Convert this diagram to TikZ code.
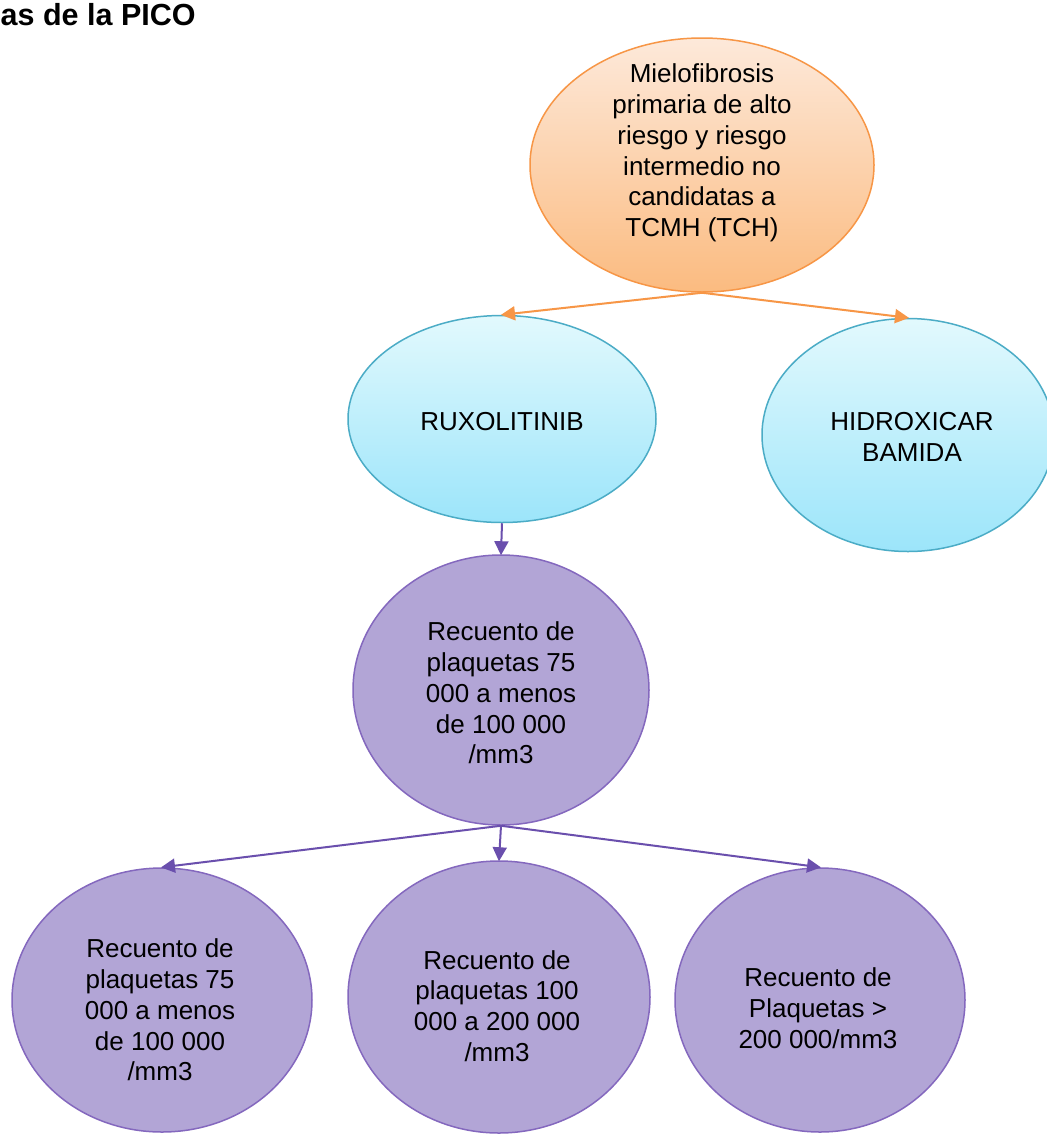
\documentclass[tikz,border=0pt]{standalone}
\usepackage{fontspec}
\setmainfont{Liberation Sans}
\usetikzlibrary{shapes.geometric,arrows.meta}
\definecolor{orgline}{HTML}{F79646}
\definecolor{orgtop}{HTML}{FDE9DA}
\definecolor{orgbot}{HTML}{FBBB80}
\definecolor{cyline}{HTML}{4BACC6}
\definecolor{cytop}{HTML}{E2F9FD}
\definecolor{cybot}{HTML}{9CE5FA}
\definecolor{puline}{HTML}{8468BE}
\definecolor{pufill}{HTML}{B2A5D6}
\definecolor{puarrow}{HTML}{6A4FAD}
\tikzset{
  orgell/.style={ellipse, draw=orgline, line width=1.5pt, top color=orgtop, bottom color=orgbot, inner sep=0pt},
  cyell/.style={ellipse, draw=cyline, line width=1.5pt, top color=cytop, bottom color=cybot, inner sep=0pt},
  puell/.style={ellipse, draw=puline, line width=1.5pt, fill=pufill, inner sep=0pt},
  txt/.style={align=center, inner sep=0pt, font=\fontsize{26}{30.8}\selectfont},
  orgarrow/.style={draw=orgline, line width=2pt, -{Triangle[length=14pt,width=14pt]}, shorten >=-1pt},
  puarrowst/.style={draw=puarrow, line width=2pt, -{Triangle[length=14pt,width=14pt]}, shorten >=-1pt}
}
\begin{document}
\begin{tikzpicture}[x=1pt,y=-1pt]
\useasboundingbox (0,0) rectangle (1047,1141);
\fill[white] (0,0) rectangle (1047,1141);
\node[anchor=base west, inner sep=0pt, font=\fontsize{30.5}{34}\selectfont\bfseries] (title) at (0.5,25) {as de la PICO};
% ellipses
\node[orgell, minimum width=344pt, minimum height=254pt] (top) at (702,165) {};
\node[cyell, minimum width=308pt, minimum height=207pt] (rux) at (502,419) {};
\node[cyell, minimum width=292pt, minimum height=233pt] (hid) at (908,435) {};
\node[puell, minimum width=296pt, minimum height=270pt] (mid) at (501,690) {};
\node[puell, minimum width=300pt, minimum height=264pt] (b1) at (162,1000) {};
\node[puell, minimum width=302pt, minimum height=272pt] (b2) at (499,997) {};
\node[puell, minimum width=290pt, minimum height=264pt] (b3) at (820,1000) {};
% texts
\node[txt] (toptext) at (702,153) {Mielofibrosis\\primaria de alto\\riesgo y riesgo\\intermedio no\\candidatas a\\TCMH (TCH)};
\node[txt] (ruxtext) at (502,422) {RUXOLITINIB};
\node[txt] (hidtext) at (912,437) {HIDROXICAR\\BAMIDA};
\node[txt] (midtext) at (501,693) {Recuento de\\plaquetas 75\\000 a menos\\de 100 000\\/mm3};
\node[txt] (b1text) at (160,1010) {Recuento de\\plaquetas 75\\000 a menos\\de 100 000\\/mm3};
\node[txt] (b2text) at (497,1006) {Recuento de\\plaquetas 100\\000 a 200 000\\/mm3};
\node[txt] (b3text) at (818,1008) {Recuento de\\Plaquetas >\\200 000/mm3};
% connectors
\draw[orgarrow] (top.south) -- (rux.north);
\draw[orgarrow] (top.south) -- (hid.north);
\draw[puarrowst] (rux.south) -- (mid.north);
\draw[puarrowst] (mid.south) -- (b1.north);
\draw[puarrowst] (mid.south) -- (b2.north);
\draw[puarrowst] (mid.south) -- (b3.north);
\end{tikzpicture}
\end{document}
